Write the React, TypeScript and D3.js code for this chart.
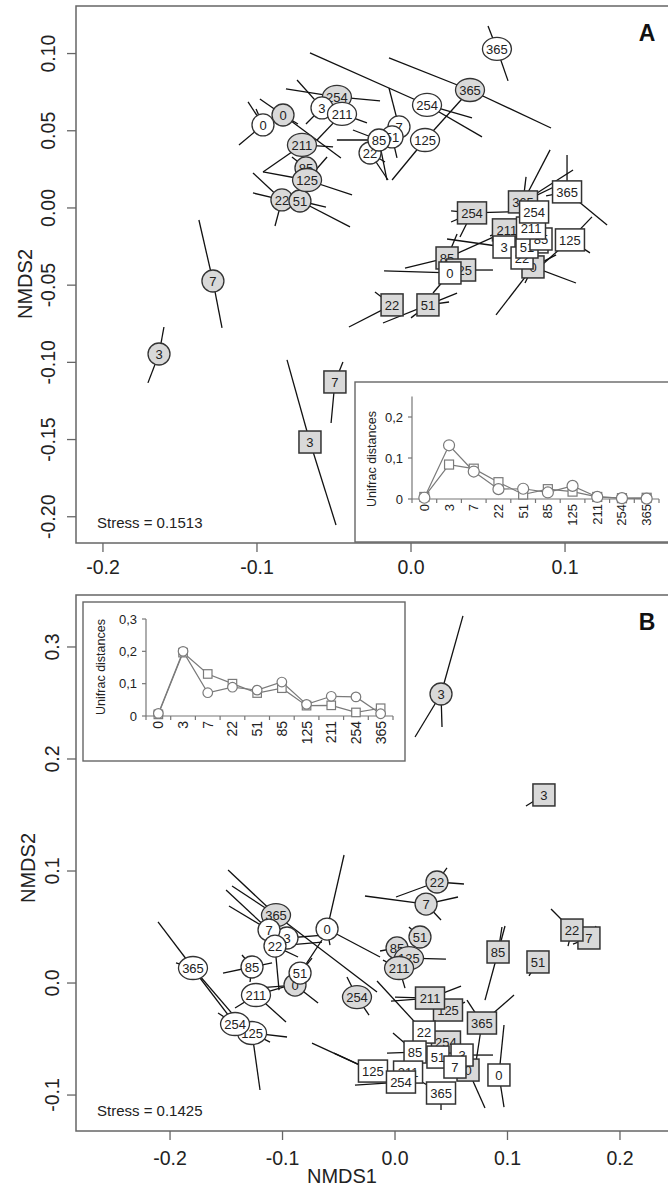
import { useEffect, useRef, type FC } from 'react';
import * as d3 from 'd3';

type Site = { day: string; x: number; y: number; ends: [number, number][] };
type Svg = d3.Selection<SVGSVGElement, unknown, null, undefined>;

const FONT = "'Liberation Sans', Arial, Helvetica, sans-serif";
const GREY = '#d9d9d9';

// ---------- panel A: NMDS scores + spider ends ----------
const aGreyCircles: Site[] = [
  { day: '0', x: -0.0831, y: 0.0602, ends: [[-0.0981, 0.0706], [-0.0734, 0.0544], [-0.0455, 0.0324]] },
  { day: '3', x: -0.1636, y: -0.0946, ends: [[-0.1604, -0.0771], [-0.1708, -0.1133]] },
  { day: '7', x: -0.1286, y: -0.0473, ends: [[-0.1377, -0.0078], [-0.1227, -0.0777]] },
  { day: '22', x: -0.0838, y: 0.0052, ends: [[-0.1026, 0.0227], [-0.1026, 0.0097], [-0.0883, -0.0117]] },
  { day: '51', x: -0.0721, y: 0.0045, ends: [[-0.0552, 0.0006], [-0.0396, -0.0123]] },
  { day: '85', x: -0.0682, y: 0.0259, ends: [[-0.0773, 0.033]] },
  { day: '125', x: -0.0675, y: 0.0181, ends: [[-0.0961, 0.0233], [-0.0383, 0.0084], [-0.0545, 0.033]] },
  { day: '211', x: -0.0708, y: 0.0408, ends: [[-0.0961, 0.0233], [-0.0506, 0.0395]] },
  { day: '254', x: -0.0481, y: 0.0719, ends: [[-0.0812, 0.0771], [-0.0201, 0.0693]] },
  { day: '365', x: 0.0383, y: 0.0764, ends: [[-0.0143, 0.0972], [0.0909, 0.0518], [0.0091, 0.044]] },
];

const aWhiteCircles: Site[] = [
  { day: '0', x: -0.0961, y: 0.0538, ends: [[-0.1058, 0.0687], [-0.1006, 0.0641], [-0.1117, 0.0408]] },
  { day: '3', x: -0.0578, y: 0.0648, ends: [[-0.074, 0.0829], [-0.0682, 0.0544]] },
  { day: '7', x: -0.0078, y: 0.0525, ends: [[-0.0143, 0.0777]] },
  { day: '22', x: -0.0266, y: 0.0356, ends: [[-0.0149, 0.0181], [-0.0169, 0.0298]] },
  { day: '51', x: -0.0123, y: 0.046, ends: [[-0.0091, 0.0324]] },
  { day: '85', x: -0.0208, y: 0.044, ends: [[-0.0481, 0.044], [-0.0377, 0.0505], [-0.0156, 0.0181]] },
  { day: '125', x: 0.0091, y: 0.044, ends: [[-0.0123, 0.0181], [0.0006, 0.044]] },
  { day: '211', x: -0.0448, y: 0.0609, ends: [[-0.0286, 0.0551], [-0.061, 0.044]] },
  { day: '254', x: 0.0104, y: 0.0667, ends: [[-0.0656, 0.1004], [0.0396, 0.0583], [0.0461, 0.046]] },
  { day: '365', x: 0.0558, y: 0.103, ends: [[0.05, 0.1179], [0.063, 0.0823]] },
];

const aGreySquares: Site[] = [
  { day: '0', x: 0.0792, y: -0.0382, ends: [[0.0552, -0.0693], [0.074, -0.0486], [0.1071, -0.0486], [0.0942, -0.0304]] },
  { day: '3', x: -0.0656, y: -0.1516, ends: [[-0.0805, -0.0984], [-0.0487, -0.2053]] },
  { day: '7', x: -0.0494, y: -0.1127, ends: [[-0.0519, -0.1393], [-0.0442, -0.0997]] },
  { day: '22', x: -0.0123, y: -0.0628, ends: [[-0.0403, -0.0771], [-0.0234, -0.0544]] },
  { day: '51', x: 0.011, y: -0.0628, ends: [[-0.0182, -0.0745], [0.0299, -0.0551], [0.0247, -0.0609], [0, -0.0712]] },
  { day: '85', x: 0.0234, y: -0.0324, ends: [[-0.0039, -0.0389], [0.0299, -0.0168], [0.061, -0.0155]] },
  { day: '125', x: 0.0325, y: -0.0402, ends: [[0.0532, -0.0402]] },
  { day: '211', x: 0.0623, y: -0.0142, ends: [[0.0513, -0.0181]] },
  { day: '254', x: 0.0396, y: -0.0032, ends: [[0.026, -0.0019], [0.026, -0.0091], [0.0318, -0.0188], [0.063, -0.0026]] },
  { day: '365', x: 0.0727, y: 0.0039, ends: [[0.0903, 0.0376], [0.0747, 0.0201], [0.1052, 0.0246], [0.0968, 0.0155]] },
];

const aWhiteSquares: Site[] = [
  { day: '0', x: 0.0253, y: -0.0421, ends: [[-0.0175, -0.0408], [0.0143, -0.0551]] },
  { day: '3', x: 0.0604, y: -0.0253, ends: [[0.0234, -0.0201]] },
  { day: '7', x: 0.0818, y: -0.022, ends: [] },
  { day: '22', x: 0.0721, y: -0.0324, ends: [] },
  { day: '51', x: 0.0753, y: -0.0253, ends: [] },
  { day: '85', x: 0.0844, y: -0.0201, ends: [] },
  { day: '125', x: 0.1032, y: -0.0207, ends: [[0.1175, -0.0058], [0.1162, -0.0291], [0.0857, -0.0363]] },
  { day: '211', x: 0.0779, y: -0.013, ends: [] },
  { day: '254', x: 0.0799, y: -0.0026, ends: [] },
  { day: '365', x: 0.1013, y: 0.0104, ends: [[0.1273, -0.011], [0.1013, 0.0343], [0.0877, 0.0078]] },
];

// ---------- panel B ----------
const bGreyCircles: Site[] = [
  { day: '0', x: -0.0889, y: -0.0018, ends: [[-0.0684, -0.0179], [-0.1236, -0.0045]] },
  { day: '3', x: 0.0409, y: 0.258, ends: [[0.0604, 0.3277], [0.0178, 0.2196], [0.0418, 0.2286]] },
  { day: '7', x: 0.0276, y: 0.0705, ends: [[-0.0267, 0.0777], [0.056, 0.0768], [0.0409, 0.0563]] },
  { day: '22', x: 0.0373, y: 0.0902, ends: [[0.0009, 0.0768], [0.0613, 0.0884], [0.0462, 0.1027]] },
  { day: '51', x: 0.0222, y: 0.0411, ends: [[0.0124, 0.05]] },
  { day: '85', x: 0.0018, y: 0.0313, ends: [[-0.0133, 0.0286]] },
  { day: '125', x: 0.0124, y: 0.0223, ends: [[0.0453, 0.0214]] },
  { day: '211', x: 0.0036, y: 0.0134, ends: [[0.0089, -0.0045], [-0.0107, 0.0205]] },
  { day: '254', x: -0.0338, y: -0.0125, ends: [[-0.0427, 0.0054], [-0.0231, -0.0286]] },
  { day: '365', x: -0.1058, y: 0.0607, ends: [[-0.1484, 0.1009], [-0.1449, 0.0866], [-0.016, -0.008]] },
];

const bWhiteCircles: Site[] = [
  { day: '0', x: -0.0604, y: 0.0482, ends: [[-0.0453, 0.1143], [-0.0133, 0.0232], [-0.0578, 0.0339]] },
  { day: '3', x: -0.096, y: 0.0402, ends: [[-0.0604, 0.0429]] },
  { day: '7', x: -0.112, y: 0.0473, ends: [[-0.1502, 0.083], [-0.1476, 0.0688]] },
  { day: '22', x: -0.1067, y: 0.033, ends: [[-0.1031, -0.0063], [-0.0862, 0.0232], [-0.0649, 0.0366]] },
  { day: '51', x: -0.0844, y: 0.0089, ends: [[-0.0738, 0.0223], [-0.0649, 0.0384]] },
  { day: '85', x: -0.1271, y: 0.0143, ends: [[-0.1529, 0.0089], [-0.1093, 0.0179], [-0.136, 0.025], [-0.1289, 0.0009]] },
  { day: '125', x: -0.1271, y: -0.0446, ends: [[-0.12, -0.0955], [-0.096, -0.0482], [-0.1111, -0.0527]] },
  { day: '211', x: -0.1236, y: -0.0107, ends: [[-0.0969, -0.0348], [-0.1422, -0.0223], [-0.0871, 0]] },
  { day: '254', x: -0.1422, y: -0.0366, ends: [[-0.1573, -0.0268], [-0.1822, 0.0161]] },
  { day: '365', x: -0.1796, y: 0.0134, ends: [[-0.2107, 0.0545], [-0.1947, 0.0179], [-0.1413, -0.0313]] },
];

const bGreySquares: Site[] = [
  { day: '0', x: 0.0649, y: -0.0777, ends: [[0.08, -0.1116]] },
  { day: '3', x: 0.1324, y: 0.1679, ends: [[0.1164, 0.158]] },
  { day: '7', x: 0.1724, y: 0.0402, ends: [[0.1787, 0.0509], [0.1582, 0.0348]] },
  { day: '22', x: 0.1573, y: 0.0473, ends: [[0.1387, 0.0661], [0.1538, 0.033]] },
  { day: '51', x: 0.1271, y: 0.0188, ends: [[0.1289, 0.0286], [0.1191, 0.0063]] },
  { day: '85', x: 0.0916, y: 0.0277, ends: [[0.0978, 0.0509], [0.08, -0.0152], [0.0951, 0.05]] },
  { day: '125', x: 0.0471, y: -0.0241, ends: [[0.0622, -0.017]] },
  { day: '211', x: 0.0311, y: -0.0134, ends: [[0.0587, -0.0027], [-0.0036, -0.0161], [0, -0.0125]] },
  { day: '254', x: 0.0453, y: -0.0527, ends: [] },
  { day: '365', x: 0.0773, y: -0.0357, ends: [[0.1058, -0.0107], [0.064, -0.0152], [0.072, -0.0705]] },
];

const bWhiteSquares: Site[] = [
  { day: '0', x: 0.0924, y: -0.0821, ends: [[0.0969, -0.0375], [0.0969, -0.1107]] },
  { day: '3', x: 0.0596, y: -0.0643, ends: [[0.0871, -0.0643]] },
  { day: '22', x: 0.0258, y: -0.0438, ends: [[-0.016, 0.0018]] },
  { day: '51', x: 0.0382, y: -0.0661, ends: [] },
  { day: '7', x: 0.0533, y: -0.075, ends: [] },
  { day: '85', x: 0.0178, y: -0.0616, ends: [[-0.0018, -0.0446], [-0.0071, -0.0625]] },
  { day: '125', x: -0.0196, y: -0.0786, ends: [[-0.0542, -0.0625], [-0.0738, -0.0536]] },
  { day: '211', x: 0.0116, y: -0.0795, ends: [] },
  { day: '254', x: 0.0053, y: -0.0884, ends: [[-0.0356, -0.0911]] },
  { day: '365', x: 0.0409, y: -0.0982, ends: [[0.024, -0.0884], [0.0409, -0.1134]] },
];

// ---------- axes ----------
const aXTicks = [-0.2, -0.1, 0, 0.1];
const aXTickLabels = ['-0.2', '-0.1', '0.0', '0.1'];
const aYTicks = [-0.2, -0.15, -0.1, -0.05, 0, 0.05, 0.1];
const aYTickLabels = ['-0.20', '-0.15', '-0.10', '-0.05', '0.00', '0.05', '0.10'];
const bXTicks = [-0.2, -0.1, 0, 0.1, 0.2];
const bXTickLabels = ['-0.2', '-0.1', '0.0', '0.1', '0.2'];
const bYTicks = [-0.1, 0, 0.1, 0.2, 0.3];
const bYTickLabels = ['-0.1', '0.0', '0.1', '0.2', '0.3'];

// ---------- insets: Unifrac distances ----------
const insetDays = ['0', '3', '7', '22', '51', '85', '125', '211', '254', '365'];
const insetACircles = [0.003, 0.131, 0.067, 0.024, 0.025, 0.016, 0.032, 0.005, 0.002, 0.001];
const insetASquares = [0.005, 0.084, 0.074, 0.041, 0.011, 0.024, 0.018, 0.005, 0.002, 0.003];
const insetBCircles = [0.008, 0.2, 0.072, 0.089, 0.08, 0.105, 0.036, 0.061, 0.059, 0.007];
const insetBSquares = [0.005, 0.196, 0.13, 0.1, 0.071, 0.086, 0.032, 0.033, 0.011, 0.024];
const insetAYTicks = [0, 0.1, 0.2];
const insetAYLabels = ['0', '0,1', '0,2'];
const insetBYTicks = [0, 0.1, 0.2, 0.3];
const insetBYLabels = ['0', '0,1', '0,2', '0,3'];

interface Frame {
  left: number; top: number; right: number; bottom: number;
  xDomain: [number, number]; yDomain: [number, number];
  xTicks: number[]; xTickLabels: string[]; xLabelY: number;
  yTicks: number[]; yTickLabels: string[]; yLabelX: number;
  yTitleX: number; yTitleY: number;
  letter: string; stress: string;
}

interface Group { sites: Site[]; shape: 'circle' | 'square'; fill: string }

function drawOrdination(svg: Svg, f: Frame, groups: Group[]) {
  const x = d3.scaleLinear().domain(f.xDomain).range([f.left, f.right]);
  const y = d3.scaleLinear().domain(f.yDomain).range([f.bottom, f.top]);
  const g = svg.append('g');

  g.append('rect')
    .attr('x', f.left).attr('y', f.top)
    .attr('width', f.right - f.left + 20).attr('height', f.bottom - f.top)
    .attr('fill', 'none').attr('stroke', '#666').attr('stroke-width', 1.5);

  // y axis
  f.yTicks.forEach((t, i) => {
    g.append('line').attr('x1', f.left - 9).attr('x2', f.left)
      .attr('y1', y(t)).attr('y2', y(t)).attr('stroke', '#666').attr('stroke-width', 1.3);
    g.append('text')
      .attr('transform', `translate(${f.yLabelX},${y(t)}) rotate(-90)`)
      .attr('text-anchor', 'middle').attr('font-size', 19.5).attr('fill', '#222')
      .attr('font-family', FONT).text(f.yTickLabels[i]);
  });
  // x axis
  f.xTicks.forEach((t, i) => {
    g.append('line').attr('y1', f.bottom).attr('y2', f.bottom + 9)
      .attr('x1', x(t)).attr('x2', x(t)).attr('stroke', '#666').attr('stroke-width', 1.3);
    g.append('text').attr('x', x(t)).attr('y', f.xLabelY)
      .attr('text-anchor', 'middle').attr('font-size', 19.5).attr('fill', '#222')
      .attr('font-family', FONT).text(f.xTickLabels[i]);
  });

  g.append('text')
    .attr('transform', `translate(${f.yTitleX},${f.yTitleY}) rotate(-90)`)
    .attr('text-anchor', 'middle').attr('font-size', 20).attr('fill', '#222')
    .attr('font-family', FONT).text('NMDS2');

  g.append('text').attr('x', f.left + 21).attr('y', f.bottom - 15)
    .attr('font-size', 15).attr('fill', '#222').attr('font-family', FONT).text(f.stress);

  g.append('text').attr('x', 647).attr('y', f.top + 35).attr('text-anchor', 'middle')
    .attr('font-size', 23).attr('font-weight', 'bold').attr('fill', '#111')
    .attr('font-family', FONT).text(f.letter);

  // spiders first, then the labelled centroids on top
  groups.forEach((grp) =>
    grp.sites.forEach((s) =>
      s.ends.forEach((e) => {
        g.append('line')
          .attr('x1', x(s.x)).attr('y1', y(s.y))
          .attr('x2', x(e[0])).attr('y2', y(e[1]))
          .attr('stroke', '#111').attr('stroke-width', 1.3);
      }),
    ),
  );

  groups.forEach((grp) => {
    const m = g.selectAll(null).data(grp.sites).enter().append('g')
      .attr('transform', (d) => `translate(${x(d.x)},${y(d.y)})`);
    if (grp.shape === 'circle') {
      m.append('ellipse')
        .attr('rx', (d) => (d.day.length > 2 ? 14.5 : 11))
        .attr('ry', (d) => (d.day.length > 2 ? 11.5 : 11))
        .attr('fill', grp.fill).attr('stroke', '#333').attr('stroke-width', 1.3);
    } else {
      m.append('rect')
        .attr('x', (d) => (d.day.length > 2 ? -14.5 : -11)).attr('y', -11)
        .attr('width', (d) => (d.day.length > 2 ? 29 : 22)).attr('height', 22)
        .attr('fill', grp.fill).attr('stroke', '#333').attr('stroke-width', 1.5);
    }
    m.append('text').attr('text-anchor', 'middle').attr('dy', '0.36em')
      .attr('font-size', 13).attr('fill', '#222').attr('font-family', FONT)
      .text((d) => d.day);
  });
}

interface InsetCfg {
  boxX: number; boxY: number; boxW: number; boxH: number;
  axisLeft: number; axisRight: number; axisBottom: number; axisTop: number;
  yMax: number; yTicks: number[]; yLabels: string[];
  titleX: number; titleY: number; r: number; sq: number; xFont: number;
}

function drawInset(svg: Svg, c: InsetCfg, circles: number[], squares: number[]) {
  const g = svg.append('g');
  const x = d3.scaleBand<string>().domain(insetDays).range([c.axisLeft, c.axisRight]);
  const cx = (d: string) => (x(d) ?? 0) + x.bandwidth() / 2;
  const y = d3.scaleLinear().domain([0, c.yMax]).range([c.axisBottom, c.axisTop]);
  const axisCol = '#777';

  g.append('rect').attr('x', c.boxX).attr('y', c.boxY).attr('width', c.boxW).attr('height', c.boxH)
    .attr('fill', '#fff').attr('stroke', '#666').attr('stroke-width', 1.4);

  g.append('line').attr('x1', c.axisLeft).attr('x2', c.axisLeft)
    .attr('y1', c.axisTop).attr('y2', c.axisBottom).attr('stroke', axisCol).attr('stroke-width', 1.2);
  c.yTicks.forEach((t, i) => {
    g.append('line').attr('x1', c.axisLeft - 4).attr('x2', c.axisLeft)
      .attr('y1', y(t)).attr('y2', y(t)).attr('stroke', axisCol).attr('stroke-width', 1.2);
    g.append('text').attr('x', c.axisLeft - 9).attr('y', y(t)).attr('dy', '0.35em')
      .attr('text-anchor', 'end').attr('font-size', 13).attr('fill', '#222')
      .attr('font-family', FONT).text(c.yLabels[i]);
  });

  g.append('line').attr('x1', c.axisLeft).attr('x2', c.axisRight)
    .attr('y1', c.axisBottom).attr('y2', c.axisBottom).attr('stroke', axisCol).attr('stroke-width', 1.2);
  const edges = insetDays.map((d) => x(d) ?? 0).concat([c.axisRight]);
  edges.forEach((e) => {
    g.append('line').attr('x1', e).attr('x2', e)
      .attr('y1', c.axisBottom).attr('y2', c.axisBottom + 4).attr('stroke', axisCol).attr('stroke-width', 1.2);
  });
  insetDays.forEach((d) => {
    g.append('text')
      .attr('transform', `translate(${cx(d)},${c.axisBottom + 5}) rotate(-90)`)
      .attr('text-anchor', 'end').attr('dominant-baseline', 'central')
      .attr('font-size', c.xFont).attr('fill', '#222').attr('font-family', FONT).text(d);
  });

  g.append('text')
    .attr('transform', `translate(${c.titleX},${c.titleY}) rotate(-90)`)
    .attr('text-anchor', 'middle').attr('font-size', 12.5).attr('fill', '#222')
    .attr('font-family', FONT).text('Unifrac distances');

  const line = d3.line<number>().x((_, i) => cx(insetDays[i])).y((v) => y(v));
  const seriesCol = '#7a7a7a';

  g.append('path').attr('d', line(squares)).attr('fill', 'none')
    .attr('stroke', seriesCol).attr('stroke-width', 1.2);
  g.append('path').attr('d', line(circles)).attr('fill', 'none')
    .attr('stroke', seriesCol).attr('stroke-width', 1.2);

  g.selectAll(null).data(squares).enter().append('rect')
    .attr('x', (_, i) => cx(insetDays[i]) - c.sq / 2).attr('y', (v) => y(v) - c.sq / 2)
    .attr('width', c.sq).attr('height', c.sq)
    .attr('fill', '#fff').attr('stroke', seriesCol).attr('stroke-width', 1.2);
  g.selectAll(null).data(circles).enter().append('circle')
    .attr('cx', (_, i) => cx(insetDays[i])).attr('cy', (v) => y(v)).attr('r', c.r)
    .attr('fill', '#fff').attr('stroke', seriesCol).attr('stroke-width', 1.2);
}

const App: FC = () => {
  const svgRef = useRef<SVGSVGElement>(null);

  useEffect(() => {
    if (!svgRef.current) return;
    const svg = d3.select(svgRef.current);
    svg.selectAll('*').remove();

    drawOrdination(
      svg,
      {
        left: 76, top: 6, right: 667, bottom: 543,
        xDomain: [-0.2175, 0.1662], yDomain: [-0.217, 0.1308],
        xTicks: aXTicks, xTickLabels: aXTickLabels, xLabelY: 574,
        yTicks: aYTicks, yTickLabels: aYTickLabels, yLabelX: 55,
        yTitleX: 32, yTitleY: 284,
        letter: 'A', stress: 'Stress = 0.1513',
      },
      [
        { sites: aGreyCircles, shape: 'circle', fill: GREY },
        { sites: aGreySquares, shape: 'square', fill: GREY },
        { sites: aWhiteCircles, shape: 'circle', fill: '#fff' },
        { sites: aWhiteSquares, shape: 'square', fill: '#fff' },
      ],
    );

    drawOrdination(
      svg,
      {
        left: 76, top: 595, right: 667, bottom: 1131,
        xDomain: [-0.2836, 0.2418], yDomain: [-0.1321, 0.3464],
        xTicks: bXTicks, xTickLabels: bXTickLabels, xLabelY: 1165,
        yTicks: bYTicks, yTickLabels: bYTickLabels, yLabelX: 59,
        yTitleX: 35, yTitleY: 868,
        letter: 'B', stress: 'Stress = 0.1425',
      },
      [
        { sites: bGreyCircles, shape: 'circle', fill: GREY },
        { sites: bGreySquares, shape: 'square', fill: GREY },
        { sites: bWhiteCircles, shape: 'circle', fill: '#fff' },
        { sites: bWhiteSquares, shape: 'square', fill: '#fff' },
      ],
    );

    svg.append('text').attr('x', 342).attr('y', 1183).attr('text-anchor', 'middle')
      .attr('font-size', 20).attr('fill', '#222').attr('font-family', FONT).text('NMDS1');

    drawInset(
      svg,
      {
        boxX: 355, boxY: 382, boxW: 330, boxH: 160,
        axisLeft: 412, axisRight: 659, axisBottom: 499, axisTop: 396.5,
        yMax: 0.25, yTicks: insetAYTicks, yLabels: insetAYLabels,
        titleX: 376, titleY: 459, r: 5.5, sq: 9, xFont: 13,
      },
      insetACircles,
      insetASquares,
    );

    drawInset(
      svg,
      {
        boxX: 83, boxY: 602, boxW: 322, boxH: 159,
        axisLeft: 146, axisRight: 393, axisBottom: 716, axisTop: 619,
        yMax: 0.3, yTicks: insetBYTicks, yLabels: insetBYLabels,
        titleX: 105, titleY: 667, r: 4.8, sq: 8.5, xFont: 14,
      },
      insetBCircles,
      insetBSquares,
    );
  }, []);

  return (
    <svg
      ref={svgRef}
      width={668}
      height={1188}
      style={{ position: 'absolute', left: 0, top: 0, background: '#fff' }}
    />
  );
};

export default App;
